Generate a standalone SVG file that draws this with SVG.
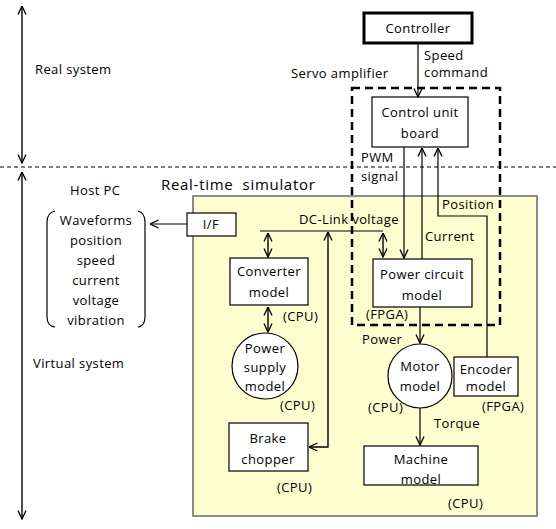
<svg xmlns="http://www.w3.org/2000/svg" width="556" height="529" viewBox="0 0 556 529">
<defs>
<marker id="a" viewBox="0 0 10 10" refX="9.5" refY="5" markerWidth="10" markerHeight="10" markerUnits="userSpaceOnUse" orient="auto-start-reverse">
<path d="M1,1 L9.5,5 L1,9" fill="none" stroke="#000" stroke-width="1.3"/>
</marker>
</defs>
<style>
text{font-family:"Open Sans","Liberation Sans",sans-serif;font-size:13px;letter-spacing:0.4px;fill:#000}
.c{text-anchor:middle}
.box{fill:#fff;stroke:#000;stroke-width:1.2}
.ln{fill:none;stroke:#000;stroke-width:1.2}
.arr{fill:none;stroke:#000;stroke-width:1.2;marker-end:url(#a)}
.dbl{fill:none;stroke:#000;stroke-width:1.4;marker-end:url(#a);marker-start:url(#a)}
</style>
<rect width="556" height="529" fill="#fff"/>

<g id="divider">
<line x1="0" y1="167" x2="556" y2="167" stroke="#000" stroke-width="1" stroke-dasharray="4,3"/>
<line x1="22" y1="6" x2="22" y2="163" class="dbl" stroke-width="1.2"/>
<line x1="22" y1="172" x2="22" y2="519" class="dbl" stroke-width="1.2"/>
<text x="35" y="74">Real system</text>
<text x="70" y="195">Host PC</text>
<text x="33" y="368">Virtual system</text>
</g>

<g id="simulator">
<rect x="193" y="196" width="344" height="320" fill="#fefdcf" stroke="#8c8c8c" stroke-width="2"/>
<text x="161" y="190" style="font-size:15px;white-space:pre;letter-spacing:0.7px">Real-time  simulator</text>
</g>

<g id="servo">
<rect x="352" y="88" width="148" height="237" fill="none" stroke="#000" stroke-width="2.5" stroke-dasharray="8,5"/>
<text x="291" y="78">Servo amplifier</text>
</g>

<g id="controller">
<rect x="364" y="13" width="108" height="30" fill="#fff" stroke="#000" stroke-width="3"/>
<text x="418" y="33" class="c">Controller</text>
</g>

<g id="control-unit">
<rect x="372" y="97" width="96" height="50" class="box"/>
<text x="420" y="117" class="c">Control unit</text>
<text x="420" y="138" class="c">board</text>
</g>

<g id="power-circuit">
<rect x="373" y="259" width="99" height="48" class="box"/>
<text x="422" y="279" class="c">Power circuit</text>
<text x="422" y="300" class="c">model</text>
<text x="366" y="319">(FPGA)</text>
</g>

<g id="motor">
<circle cx="420" cy="376" r="32" class="box"/>
<text x="420" y="371" class="c">Motor</text>
<text x="420" y="391" class="c">model</text>
<text x="368" y="412">(CPU)</text>
</g>

<g id="encoder">
<rect x="454" y="357" width="64" height="39" class="box"/>
<text x="486" y="374" class="c">Encoder</text>
<text x="486" y="391" class="c">model</text>
<text x="482" y="411">(FPGA)</text>
</g>

<g id="machine">
<rect x="364" y="446" width="114" height="39" class="box"/>
<text x="421" y="464" class="c">Machine</text>
<text x="421" y="484" class="c">model</text>
<text x="448" y="508">(CPU)</text>
</g>

<g id="converter">
<rect x="230" y="258" width="78" height="47" class="box"/>
<text x="269" y="276" class="c">Converter</text>
<text x="269" y="297" class="c">model</text>
<text x="283" y="321">(CPU)</text>
</g>

<g id="power-supply">
<circle cx="265" cy="366" r="33" class="box"/>
<text x="265" y="353" class="c">Power</text>
<text x="265" y="372" class="c">supply</text>
<text x="265" y="391" class="c">model</text>
<text x="280" y="410">(CPU)</text>
</g>

<g id="brake-chopper">
<rect x="229" y="423" width="79" height="48" class="box"/>
<text x="268" y="443" class="c">Brake</text>
<text x="268" y="464" class="c">chopper</text>
<text x="277" y="492">(CPU)</text>
</g>

<g id="if">
<rect x="187" y="213" width="49" height="23" class="box"/>
<text x="211" y="229" class="c">I/F</text>
</g>

<g id="waveforms">
<path d="M55,211 Q47,213 47,222 L47,317 Q47,326 55,327" class="ln"/>
<path d="M138,211 Q145,213 145,222 L145,317 Q145,326 138,327" class="ln"/>
<text x="96" y="225" class="c">Waveforms</text>
<text x="96" y="245" class="c">position</text>
<text x="96" y="265" class="c">speed</text>
<text x="96" y="285" class="c">current</text>
<text x="96" y="305" class="c">voltage</text>
<text x="96" y="325" class="c">vibration</text>
</g>

<g id="connectors">
<line x1="418" y1="43" x2="418" y2="97" class="arr"/>
<text x="424" y="60">Speed</text>
<text x="424" y="77">command</text>
<line x1="404" y1="147" x2="404" y2="258" class="arr"/>
<text x="361" y="162">PWM</text>
<text x="361" y="181">signal</text>
<line x1="422" y1="259" x2="422" y2="148" class="arr"/>
<text x="425" y="241">Current</text>
<path d="M487,357 L487,216 L438,216 L438,148" class="arr"/>
<text x="442" y="209">Position</text>
<line x1="420" y1="307" x2="420" y2="343" class="arr"/>
<text x="362" y="344">Power</text>
<line x1="420" y1="408" x2="420" y2="445" class="arr"/>
<text x="434" y="428">Torque</text>
<line x1="187" y1="224" x2="150" y2="224" class="arr"/>
<line x1="260" y1="231" x2="383" y2="231" class="ln"/>
<text x="299" y="224">DC-Link voltage</text>
<line x1="268" y1="233" x2="268" y2="257" class="dbl"/>
<line x1="383" y1="233" x2="383" y2="257" class="dbl"/>
<line x1="268" y1="307" x2="268" y2="332" class="dbl"/>
<path d="M309,447 L328,447 L328,232" class="dbl"/>
</g>
</svg>
